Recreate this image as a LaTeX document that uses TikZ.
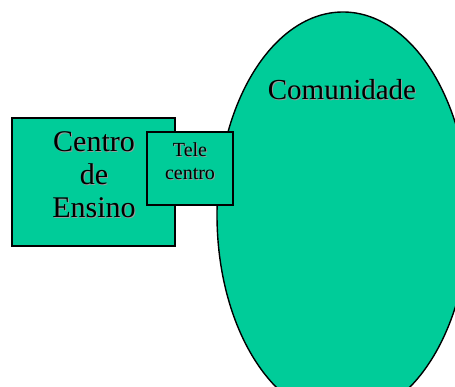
\documentclass[tikz,border=0pt]{standalone}
\usepackage{fontspec}
\setmainfont{Liberation Serif}
\usetikzlibrary{shapes.geometric}
\definecolor{verde}{RGB}{0,204,153}
\newcommand{\shtext}[1]{\makebox[0pt][l]{\hspace{1pt}\raisebox{-1pt}{\textcolor{black!40}{#1}}}#1}

\begin{document}
\begin{tikzpicture}[
  x=1pt, y=-1pt,
  area/.style={ellipse, draw, line width=1.4pt, fill=verde, inner sep=0pt},
  caixa/.style={rectangle, draw, line width=1.8pt, fill=verde, inner sep=0pt},
  rotulo/.style={inner sep=0pt, align=center, text=black},
]
  \useasboundingbox (0,0) rectangle (455,387);
  % Comunidade
  \node[area, minimum width=252, minimum height=406] (com) at (343,215) {};
  \node[rotulo, font=\fontsize{29}{33}\selectfont, anchor=base] (comtxt) at (342,100) {\shtext{Comunidade}};
  % Centro de Ensino
  \node[caixa, minimum width=163, minimum height=128] (ce) at (93.5,182) {};
  \node[rotulo, font=\fontsize{30}{33}\selectfont] (cetxt) at (94,175)
    {\shtext{Centro}\\\shtext{de}\\\shtext{Ensino}};
  % Telecentro
  \node[caixa, minimum width=86, minimum height=73] (tc) at (190,168.5) {};
  \node[rotulo, font=\fontsize{20}{23}\selectfont] (tctxt) at (190,162)
    {\shtext{Tele}\\\shtext{centro}};
\end{tikzpicture}
\end{document}
